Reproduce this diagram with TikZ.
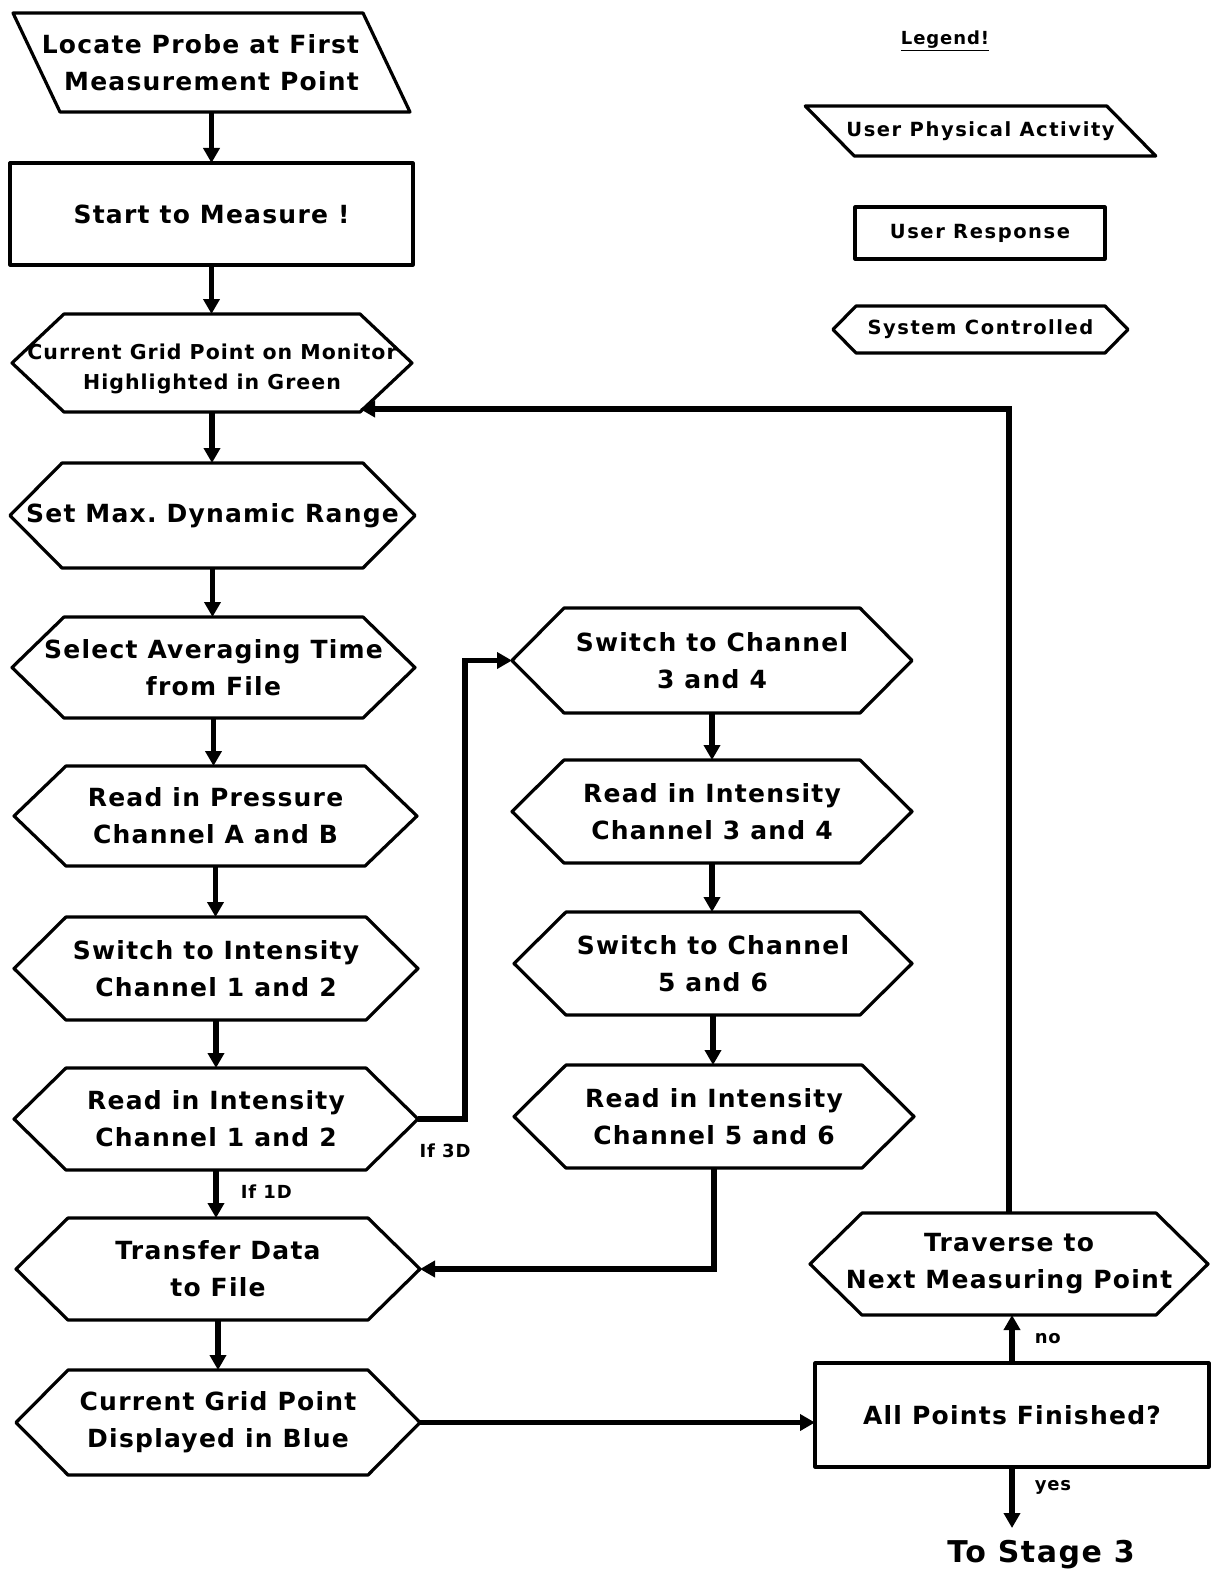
\documentclass[tikz,border=0pt]{standalone}
\usepackage{fontspec}
\setmainfont{DejaVu Sans}
\newfontfamily\chartfont[LetterSpace=5]{DejaVu Sans}
\newfontfamily\legendfont[LetterSpace=8]{DejaVu Sans}
\usetikzlibrary{arrows.meta}
\frenchspacing

% outlines of the flowchart symbols
\newcommand\hexshape[2]{% node name, inset of the pointed ends
  \draw[outline] (#1.west) -- ([xshift=#2]#1.north west) -- ([xshift=-#2]#1.north east)
    -- (#1.east) -- ([xshift=-#2]#1.south east) -- ([xshift=#2]#1.south west) -- cycle;}
\newcommand\slantshape[2]{% node name, half of the horizontal slant
  \draw[outline] ([xshift=-#2]#1.north west) -- ([xshift=-#2]#1.north east)
    -- ([xshift=#2]#1.south east) -- ([xshift=#2]#1.south west) -- cycle;}
\newcommand\rectshape[1]{\draw[outline] (#1.north west) rectangle (#1.south east);}

\tikzset{
  box/.style={draw=none, outer sep=0pt, inner sep=0pt, align=center,
    font=\chartfont\bfseries\fontsize{25}{37}\selectfont},
  smallbox/.style={box, font=\chartfont\bfseries\fontsize{20.5}{30}\selectfont},
  legendbox/.style={box, font=\legendfont\bfseries\fontsize{19.5}{22}\selectfont},
  outline/.style={line width=3.2pt, line join=round},
  flow/.style={line width=5.5pt, -{Triangle[length=15pt,width=16pt]}},
  lbl/.style={font=\chartfont\bfseries\fontsize{18}{20}\selectfont, inner sep=0pt},
}

\begin{document}
\begin{tikzpicture}[x=1pt,y=-1pt]
\fill[white] (0,0) rectangle (1211,1570);
\useasboundingbox (0,0) rectangle (1211,1570);

% ---- main column
\node[box, minimum width=350pt, minimum height=99pt] (locate) at (211.5,62.5)
  {\hspace*{-22pt}Locate Probe at First\\Measurement Point};
\slantshape{locate}{23.5pt}
\node[box, minimum width=403pt, minimum height=102pt] (start) at (211.5,214) {Start to Measure !};
\rectshape{start}
\node[smallbox, minimum width=400pt, minimum height=98pt] (grid1) at (212,363)
  {\rule{0pt}{28pt}Current Grid Point on Monitor\\Highlighted in Green};
\hexshape{grid1}{52pt}
\node[box, minimum width=405pt, minimum height=105pt] (dyn) at (212.5,515.5) {Set Max. Dynamic Range};
\hexshape{dyn}{52pt}
\node[box, minimum width=403pt, minimum height=101pt] (avg) at (213.5,667.5)
  {Select Averaging Time\\from File};
\hexshape{avg}{52pt}
\node[box, minimum width=403pt, minimum height=100pt] (press) at (215.5,816)
  {Read in Pressure\\Channel A and B};
\hexshape{press}{52pt}
\node[box, minimum width=404pt, minimum height=103pt] (sw12) at (216,968.5)
  {Switch to Intensity\\Channel 1 and 2};
\hexshape{sw12}{52pt}
\node[box, minimum width=404pt, minimum height=102pt] (rd12) at (216,1119)
  {Read in Intensity\\Channel 1 and 2};
\hexshape{rd12}{52pt}
\node[box, minimum width=404pt, minimum height=102pt] (xfer) at (218,1269)
  {Transfer Data\\to File};
\hexshape{xfer}{52pt}
\node[box, minimum width=404pt, minimum height=105pt] (blue) at (218,1422.5)
  {Current Grid Point\\Displayed in Blue};
\hexshape{blue}{52pt}

% ---- 3D branch
\node[box, minimum width=400pt, minimum height=105pt] (sw34) at (712,660.5)
  {Switch to Channel\\3 and 4};
\hexshape{sw34}{52pt}
\node[box, minimum width=400pt, minimum height=103pt] (rd34) at (712,811.5)
  {Read in Intensity\\Channel 3 and 4};
\hexshape{rd34}{52pt}
\node[box, minimum width=398pt, minimum height=103pt] (sw56) at (713,963.5)
  {Switch to Channel\\5 and 6};
\hexshape{sw56}{52pt}
\node[box, minimum width=400pt, minimum height=103pt] (rd56) at (714,1116.5)
  {Read in Intensity\\Channel 5 and 6};
\hexshape{rd56}{52pt}

% ---- loop control
\node[box, minimum width=398pt, minimum height=102pt] (trav) at (1009,1264)
  {Traverse to\\Next Measuring Point};
\hexshape{trav}{52pt}
\node[box, minimum width=394pt, minimum height=104pt] (allpts) at (1012,1415) {All Points Finished?};
\rectshape{allpts}
\node[box, font=\chartfont\bfseries\fontsize{30}{34}\selectfont, anchor=north] (stage3) at (1041,1540) {To Stage 3};

% ---- legend
\node[box, font=\chartfont\bfseries\fontsize{18}{20}\selectfont] (legend) at (945,41) {\underline{Legend!}};
\node[legendbox, minimum width=301.5pt, minimum height=50pt] (upa) at (980.5,131) {User Physical Activity};
\slantshape{upa}{24.5pt}
\node[legendbox, minimum width=250pt, minimum height=52pt] (ur) at (980,233) {User Response};
\rectshape{ur}
\node[legendbox, minimum width=295pt, minimum height=47pt] (sc) at (980.5,329.5) {System Controlled};
\hexshape{sc}{23pt}

% ---- connectors
\draw[flow] (locate.south) -- (locate.south |- start.north);
\draw[flow] (start.south) -- (start.south |- grid1.north);
\draw[flow] (grid1.south) -- (grid1.south |- dyn.north);
\draw[flow] (dyn.south) -- (dyn.south |- avg.north);
\draw[flow] (avg.south) -- (avg.south |- press.north);
\draw[flow] (press.south) -- (press.south |- sw12.north);
\draw[flow] (sw12.south) -- (sw12.south |- rd12.north);
\draw[flow] (rd12.south) -- (rd12.south |- xfer.north)
  node[lbl, pos=0.45, right=22pt] {If 1D};
\draw[flow] (rd12.east) -- ++(47,0) |- (sw34.west);
\node[lbl] (if3d) at (445,1151) {If 3D};
\draw[flow] (sw34.south) -- (sw34.south |- rd34.north);
\draw[flow] (rd34.south) -- (rd34.south |- sw56.north);
\draw[flow] (sw56.south) -- (sw56.south |- rd56.north);
\draw[flow] (rd56.south) |- (xfer.east);
\draw[flow] (xfer.south) -- (xfer.south |- blue.north);
\draw[flow] (blue.east) -- (blue.east -| allpts.west);
\draw[flow] (allpts.north) -- (allpts.north |- trav.south)
  node[lbl, midway, right=20pt] {no};
\coordinate (stagetip) at ([yshift=12pt]stage3.north);
\draw[flow] (allpts.south) -- (allpts.south |- stagetip)
  node[lbl, pos=0.33, right=20pt] {yes};
\coordinate (back) at ([xshift=-52pt,yshift=3pt]grid1.south east);
\draw[flow] (trav.north) |- (back);
\end{tikzpicture}
\end{document}
